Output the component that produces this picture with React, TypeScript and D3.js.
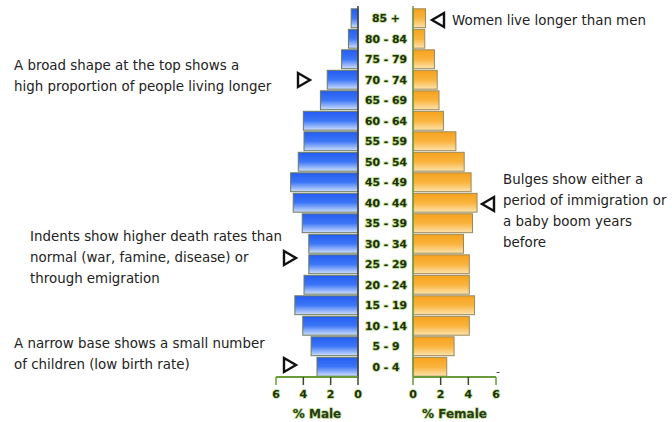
import React from 'react'
import * as d3 from 'd3'

const ageGroups = ['85 +', '80 - 84', '75 - 79', '70 - 74', '65 - 69', '60 - 64', '55 - 59', '50 - 54', '45 - 49',
  '40 - 44', '35 - 39', '30 - 34', '25 - 29', '20 - 24', '15 - 19', '10 - 14', '5 - 9', '0 - 4']
const maleValues = [0.5, 0.7, 1.2, 2.25, 2.75, 4.0, 3.95, 4.37, 4.93, 4.74, 4.08, 3.6, 3.6, 3.95, 4.62, 4.04, 3.43, 3.0]
const femaleValues = [0.9, 0.85, 1.55, 1.75, 1.88, 2.2, 3.1, 3.7, 4.2, 4.63, 4.3, 3.65, 4.07, 4.07, 4.45, 4.07, 2.97, 2.44]
const tickValues = [0, 2, 4, 6]

const notes = [
  { lines: ['A broad shape at the top shows a', 'high proportion of people living longer'], x: 14, y: 65, tri: [298, 80], dir: 1 },
  { lines: ['Women live longer than men'], x: 452, y: 20, tri: [432, 20], dir: -1 },
  { lines: ['Bulges show either a', 'period of immigration or', 'a baby boom years', 'before'], x: 503, y: 179, tri: [482, 204], dir: -1 },
  { lines: ['Indents show higher death rates than', 'normal (war, famine, disease) or', 'through emigration'], x: 30, y: 236, tri: [284, 258], dir: 1 },
  { lines: ['A narrow base shows a small number', 'of children (low birth rate)'], x: 14, y: 343, tri: [284, 365], dir: 1 },
]

export default function App() {
  const y = d3.scaleBand().domain(ageGroups).range([8, 377]).paddingInner(0.08).paddingOuter(0.04)
  const xm = d3.scaleLinear().domain([0, 6]).range([358, 276])
  const xf = d3.scaleLinear().domain([0, 6]).range([413, 496])
  const axisY = 377
  const font = '"DejaVu Sans", Verdana, sans-serif'

  // small outlined arrow heads next to the notes
  const triPath = (cx: number, cy: number, dir: number) => {
    const w = 12, h = 14
    if (dir > 0) return `M${cx},${cy - h / 2}L${cx + w},${cy}L${cx},${cy + h / 2}Z`
    return `M${cx + w},${cy - h / 2}L${cx},${cy}L${cx + w},${cy + h / 2}Z`
  }

  return (
    <svg width={672} height={422} style={{ position: 'absolute', left: 0, top: 0, background: '#fff' }}>
      <defs>
        <linearGradient id="maleGrad" x1="0" y1="0" x2="0" y2="1">
          <stop offset="0%" stopColor="#245cf2" />
          <stop offset="50%" stopColor="#3c76f6" />
          <stop offset="100%" stopColor="#cfdffd" />
        </linearGradient>
        <linearGradient id="femaleGrad" x1="0" y1="0" x2="0" y2="1">
          <stop offset="0%" stopColor="#f6a21c" />
          <stop offset="50%" stopColor="#fab33c" />
          <stop offset="100%" stopColor="#fde3ae" />
        </linearGradient>
      </defs>

      {/* male bars */}
      {ageGroups.map((g, i) => (
        <rect key={'m' + g} x={xm(maleValues[i])} y={y(g)} width={xm(0) - xm(maleValues[i])} height={y.bandwidth()}
          fill="url(#maleGrad)" stroke="#6d7a5c" strokeWidth={1} />
      ))}
      {/* female bars */}
      {ageGroups.map((g, i) => (
        <rect key={'f' + g} x={xf(0)} y={y(g)} width={xf(femaleValues[i]) - xf(0)} height={y.bandwidth()}
          fill="url(#femaleGrad)" stroke="#9a8a5a" strokeWidth={1} />
      ))}

      {/* vertical zero lines */}
      <line x1={xm(0)} x2={xm(0)} y1={6} y2={axisY} stroke="#3a3a3a" strokeWidth={1.5} />
      <line x1={xf(0)} x2={xf(0)} y1={6} y2={axisY} stroke="#6a9a3a" strokeWidth={1.5} />

      {/* age labels */}
      {ageGroups.map(g => (
        <text key={'l' + g} x={386} y={(y(g) ?? 0) + y.bandwidth() / 2} dy="0.36em" textAnchor="middle"
          fontFamily={font} fontWeight="bold" fontSize={10.8} fill="#1f2f0c"
          stroke="#b9dc8c" strokeWidth={1.6} paintOrder="stroke">{g}</text>
      ))}

      {/* bottom axes */}
      {[xm, xf].map((sc, k) => (
        <g key={'ax' + k}>
          <line x1={sc(0)} x2={sc(6)} y1={axisY} y2={axisY} stroke="#6a9a3a" strokeWidth={2} />
          {tickValues.map(t => (
            <g key={t} transform={`translate(${sc(t)},${axisY})`}>
              <line y2={8} stroke={t === 6 || (k === 1 && t === 0) ? '#6a9a3a' : '#3a4a2a'} strokeWidth={1.5} />
              <text y={17} dy="0.36em" textAnchor="middle" fontFamily={font} fontWeight="bold" fontSize={11}
                fill="#1f2f0c" stroke="#b9dc8c" strokeWidth={1.4} paintOrder="stroke">{t}</text>
            </g>
          ))}
          <text x={(sc(0) + sc(6)) / 2} y={414} dy="0.36em" textAnchor="middle" fontFamily={font} fontWeight="bold"
            fontSize={12} fill="#2a3a18" stroke="#b9dc8c" strokeWidth={1.4} paintOrder="stroke">
            {k === 0 ? '% Male' : '% Female'}
          </text>
        </g>
      ))}
      <text x={498} y={371} dy="0.35em" textAnchor="middle" fontFamily={font} fontSize={11} fill="#333">-</text>

      {/* annotations */}
      {notes.map((n, i) => (
        <g key={'n' + i}>
          {n.lines.map((l, j) => (
            <text key={j} x={n.x} y={n.y + j * 21} dy="0.36em" fontFamily={font} fontSize={13.4} fill="#222">{l}</text>
          ))}
          <path d={triPath(n.tri[0], n.tri[1], n.dir)} fill="#fff" stroke="#111" strokeWidth={2.4} strokeLinejoin="miter" />
        </g>
      ))}
    </svg>
  )
}
